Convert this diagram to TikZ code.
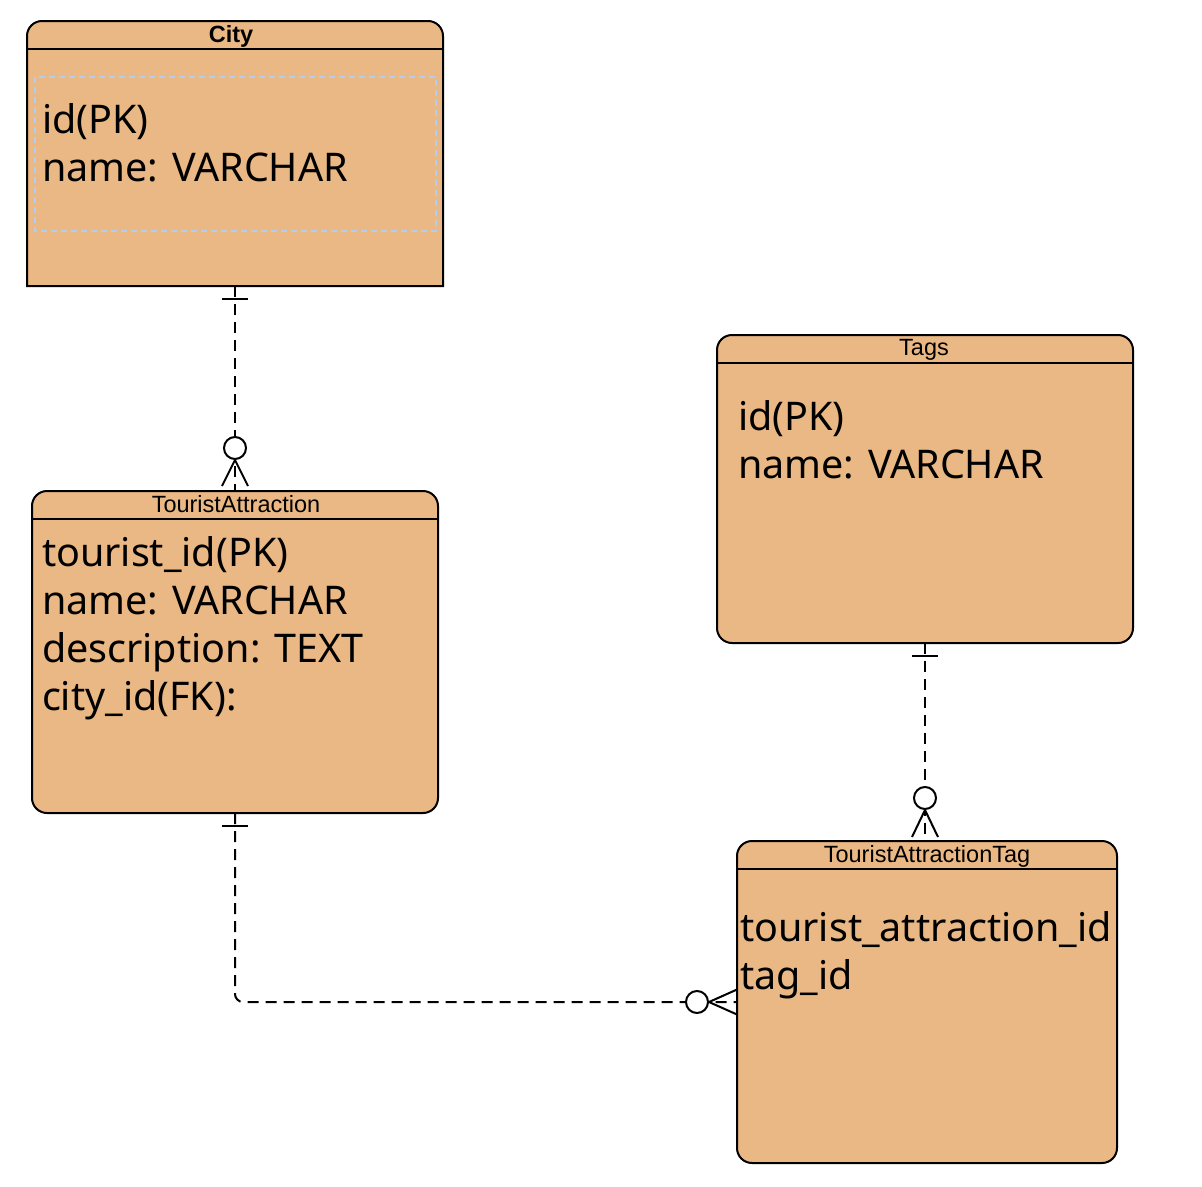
\documentclass[tikz,border=0pt]{standalone}
\usepackage{fontspec}
\setmainfont{Noto Sans}
\newfontfamily\hdrfont{Liberation Sans}
\usetikzlibrary{calc}
\definecolor{entfill}{HTML}{EAB884}
\definecolor{phblue}{HTML}{B3CDEF}
\begin{document}
\begin{tikzpicture}[x=1pt,y=-1pt,line width=2pt,
  box/.style={rectangle,inner sep=0pt,outer sep=0pt},
  entity/.style={box,draw=black,fill=entfill,rounded corners=15pt},
  hdr/.style={anchor=base,inner sep=0pt,font=\hdrfont\fontsize{23.5}{27}\selectfont},
  attr/.style={anchor=base west,inner sep=0pt,font=\fontsize{39.5}{48}\selectfont},
  conn/.style={draw=black,line width=2pt,dash pattern=on 11pt off 7pt},
  endtick/.style={draw=black,line width=2pt},
  ring/.style={draw=black,fill=white,line width=2pt}]
\fill[white] (0,0) rectangle (1202,1186);
\useasboundingbox (0,0) rectangle (1202,1186);

% ---- City (rounded top corners only) ----
\node[box,minimum width=416,minimum height=265] (city) at (235,153.5) {};
\draw[fill=entfill] (city.south west) [rounded corners=15pt] -- (city.north west)
  -- (city.north east) [sharp corners] -- (city.south east) -- cycle;
\draw ($(city.north west)+(0,28)$) -- ($(city.north east)+(0,28)$);
\node[hdr] (cityT) at ($(city.north)+(-4,21)$) {\bfseries City};
\draw[phblue,line width=1.5pt,dash pattern=on 6pt off 4pt] (35,77) rectangle (436,231);
\node[attr] (c1) at (41,133) {id(PK)};
\node[attr] (c2) at (41,181) {name: VARCHAR};

% ---- TouristAttraction ----
\node[entity,minimum width=406,minimum height=322] (ta) at (235,652) {};
\draw ($(ta.north west)+(0,28)$) -- ($(ta.north east)+(0,28)$);
\node[hdr] (taT) at ($(ta.north)+(1,21)$) {TouristAttraction};
\node[attr] (a1) at (41,566) {tourist\_id(PK)};
\node[attr] (a2) at (41,614) {name: VARCHAR};
\node[attr] (a3) at (41,662) {description: TEXT};
\node[attr] (a4) at (41,710) {city\_id(FK):};

% ---- Tags ----
\node[entity,minimum width=416,minimum height=308] (tags) at (925,489) {};
\draw ($(tags.north west)+(0,28)$) -- ($(tags.north east)+(0,28)$);
\node[hdr] (tagsT) at ($(tags.north)+(-1,20)$) {Tags};
\node[attr] (t1) at (737,430) {id(PK)};
\node[attr] (t2) at (737,478) {name: VARCHAR};

% ---- TouristAttractionTag ----
\node[entity,minimum width=380,minimum height=322] (tat) at (927,1002) {};
\draw ($(tat.north west)+(0,28)$) -- ($(tat.north east)+(0,28)$);
\node[hdr] (tatT) at ($(tat.north)+(0,21)$) {TouristAttractionTag};
\node[attr] (g1) at (739,941) {tourist\_attraction\_id};
\node[attr] (g2) at (739,989) {tag\_id};

% ---- City -> TouristAttraction ----
\draw[conn] (city.south) -- (ta.north);
\draw[endtick] ($(city.south)+(-13,13)$) -- ($(city.south)+(13,13)$);
\draw[endtick] ($(ta.north)+(0,-31)$) -- ($(ta.north)+(-13,-5)$);
\draw[endtick] ($(ta.north)+(0,-31)$) -- ($(ta.north)+(13,-5)$);
\draw[ring] ($(ta.north)+(0,-43)$) circle (11);

% ---- Tags -> TouristAttractionTag ----
\coordinate (tagsEnd) at (tags.south |- tat.north);
\draw[conn] (tags.south) -- (tagsEnd);
\draw[endtick] ($(tags.south)+(-13,13)$) -- ($(tags.south)+(13,13)$);
\draw[endtick] ($(tagsEnd)+(0,-31)$) -- ($(tagsEnd)+(-13,-4)$);
\draw[endtick] ($(tagsEnd)+(0,-31)$) -- ($(tagsEnd)+(13,-4)$);
\draw[ring] ($(tagsEnd)+(0,-43)$) circle (11);

% ---- TouristAttraction -> TouristAttractionTag ----
\draw[conn,rounded corners=8pt] (ta.south) |- (tat.west);
\draw[endtick] ($(ta.south)+(-13,13)$) -- ($(ta.south)+(13,13)$);
\draw[endtick] ($(tat.west)+(-28,0)$) -- ($(tat.west)+(0,-12.5)$);
\draw[endtick] ($(tat.west)+(-28,0)$) -- ($(tat.west)+(0,12.5)$);
\draw[ring] ($(tat.west)+(-40,0)$) circle (11);
\end{tikzpicture}
\end{document}
